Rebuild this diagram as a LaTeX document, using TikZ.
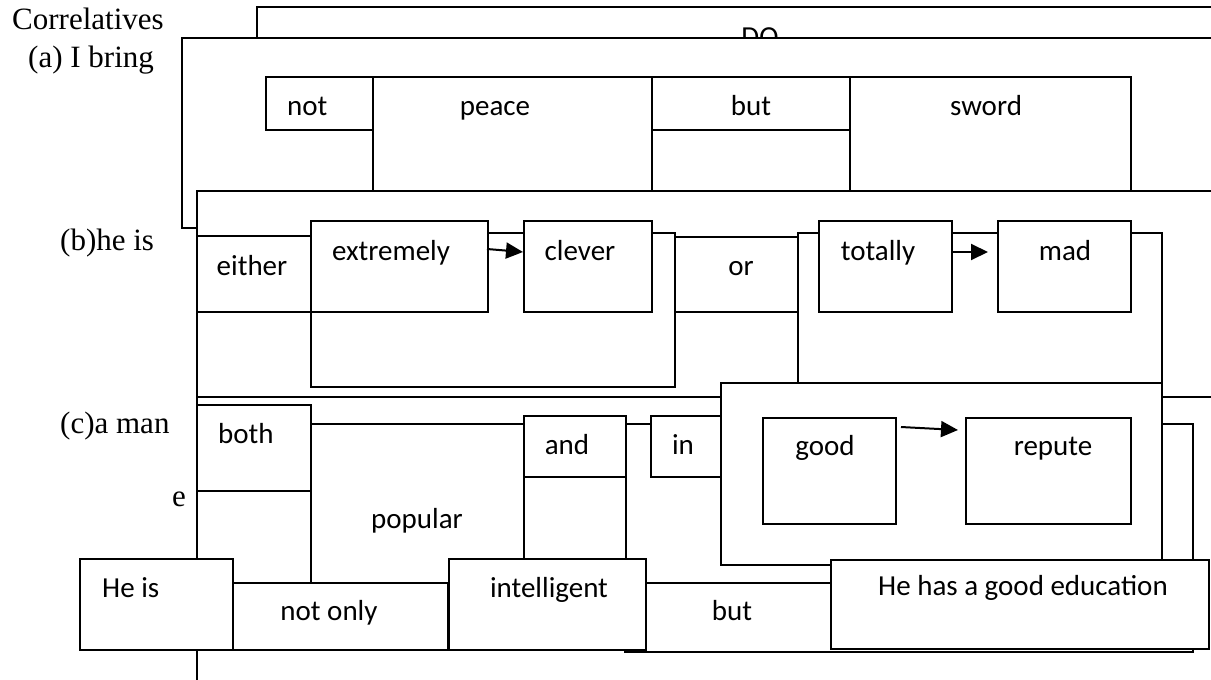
\documentclass[tikz,border=0pt]{standalone}
\usepackage{fontspec}
\setmainfont{Liberation Serif}
\newfontfamily\calib{Carlito}
\usetikzlibrary{arrows.meta}
\begin{document}
\begin{tikzpicture}[x=1pt,y=-1pt,
  bx/.style={draw=black,fill=white,line width=1.5pt},
  lab/.style={font=\calib\fontsize{29}{34}\selectfont,inner sep=0pt,anchor=base west},
  labc/.style={lab,anchor=base},
  ser/.style={font=\fontsize{31}{36}\selectfont,inner sep=0pt,anchor=base west},
  arr/.style={line width=2pt,-{Triangle[length=17pt,width=16pt]}}]
\useasboundingbox (0,0) rectangle (1211,680);
\clip (0,0) rectangle (1211,680);
\fill[white] (0,0) rectangle (1211,680);

% serif labels
\node[ser] (lcorr) at (12,30) {Correlatives};
\node[ser] (la) at (28,67) {(a) I bring};

% DO box
\draw[bx] (257,7) rectangle (1240,60);
\node[labc] (tdo) at (760,46) {DO};

% box (a)
\draw[bx] (182,38) rectangle (1240,228);
\draw[bx] (266,77) rectangle (373,130);
\draw[bx] (373,77) rectangle (652,191);
\draw[bx] (652,77) rectangle (850,191);
\draw[bx] (652,77) rectangle (850,130);
\draw[bx] (850,77) rectangle (1131,191);
\node[lab] (tnot) at (287,115) {not};
\node[labc] (tpeace) at (495,115) {peace};
\node[labc] (tbut1) at (751,115) {but};
\node[labc] (tsword) at (986,115) {sword};

% box (b)
\node[ser] (lb) at (60,250) {(b)he is};
\draw[bx] (197,191) rectangle (1240,397);
\draw[bx] (197,236) rectangle (311,312);
\draw[bx] (311,233) rectangle (675,387);
\draw[bx] (311,221) rectangle (488,312);
\draw[bx] (524,221) rectangle (652,312);
\draw[bx] (675,237) rectangle (798,312);
\draw[bx] (798,233) rectangle (1162,383);
\draw[bx] (819,221) rectangle (952,312);
\draw[bx] (998,221) rectangle (1131,312);
\node[labc] (teither) at (252,275) {either};
\node[labc] (text) at (391,260) {extremely};
\node[labc] (tclever) at (580,260) {clever};
\node[labc] (tor) at (741,275) {or};
\node[labc] (ttotally) at (878,260) {totally};
\node[labc] (tmad) at (1065,260) {mad};
\coordinate (a1s) at (487,249);
\coordinate (a1e) at (523,252);
\coordinate (a2s) at (952,252);
\coordinate (a2e) at (988,252);
\draw[arr] (a1s) -- (a1e);
\draw[arr] (a2s) -- (a2e);

% box (c)
\node[ser] (lc) at (60,433) {(c)a man};
\node[ser] (le) at (172,506) {e};
\draw[bx] (197,397) rectangle (1240,720);
\draw[bx] (197,405) rectangle (311,491);
\draw[bx] (311,424) rectangle (1193,600);
\draw[bx] (524,416) rectangle (626,600);
\draw[bx] (524,416) rectangle (626,477);
\draw[bx] (651,416) rectangle (721,477);
\draw[bx] (721,383) rectangle (1162,565);
\draw[bx] (763,418) rectangle (896,524);
\draw[bx] (966,418) rectangle (1131,524);
\node[lab] (tboth) at (218,443) {both};
\node[labc] (tpop) at (417,528) {popular};
\node[labc] (tand) at (567,454) {and};
\node[labc] (tin) at (683,454) {in};
\node[labc] (tgood) at (825,455) {good};
\node[labc] (trep) at (1053,455) {repute};
\coordinate (a3s) at (901,427);
\coordinate (a3e) at (958,430);
\draw[arr] (a3s) -- (a3e);

% bottom row
\draw[bx] (625,583) rectangle (1193,652);
\draw[bx] (233,583) rectangle (448,650);
\draw[bx] (80,559) rectangle (233,650);
\draw[bx] (449,559) rectangle (646,650);
\draw[bx] (831,560) rectangle (1209,649);
\node[lab] (theis) at (102,597) {He is};
\node[labc] (tnotonly) at (329,620) {not only};
\node[labc] (tintel) at (549,597) {intelligent};
\node[labc] (tbut2) at (732,620) {but};
\node[labc] (thehas) at (1023,595) {He has a good education};
\end{tikzpicture}
\end{document}
